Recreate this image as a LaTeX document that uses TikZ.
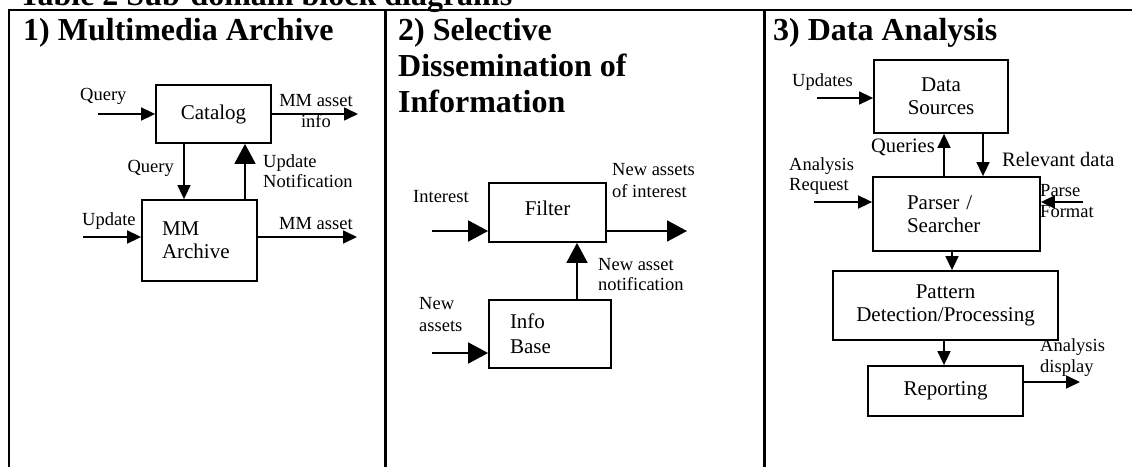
\documentclass[tikz,border=0pt]{standalone}
\usepackage{fontspec}
\setmainfont{Liberation Serif}
\usetikzlibrary{arrows.meta}
\begin{document}
\begin{tikzpicture}[x=1pt,y=-1pt,
  box/.style={draw, line width=1.8pt, fill=white, inner sep=0pt,
    font=\fontsize{21}{23}\selectfont, align=center},
  lbl/.style={inner sep=0pt, font=\fontsize{18.5}{21}\selectfont, align=left},
  biglbl/.style={lbl, font=\fontsize{20.5}{23}\selectfont},
  head/.style={inner sep=0pt, font=\fontsize{32}{36}\selectfont\bfseries,
    align=left, anchor=base west},
  arr/.style={line width=1.6pt, -{Triangle[length=14pt,width=13pt]}},
  bigarr/.style={line width=1.8pt, -{Triangle[length=20pt,width=21pt]}},
  rule/.style={line width=2.3pt}
]
\useasboundingbox (0,0) rectangle (1132,466);

% table frame
\draw[rule] (9,480) -- (9,10) -- (1150,10);
\draw[rule] (385.5,10) -- (385.5,480);
\draw[rule] (764.5,10) -- (764.5,480);

% caption and column headings (multi-line nodes sit on their last baseline)
\node[head] (title) at (19,5.5) {Table 2 Sub-domain block diagrams};
\node[head] (h1) at (23,40.5) {1) Multimedia Archive};
\node[head] (h2) at (398,112) {2) Selective\\Dissemination of\\Information};
\node[head] (h3) at (773,40.5) {3) Data Analysis};

% ---------- labels ----------
% 1) Multimedia Archive
\node[lbl, anchor=base west] (lq1) at (80,100) {Query};
\node[lbl, anchor=base, align=center] (lcatout) at (316,127) {MM asset\\info};
\node[lbl, anchor=base east] (lq2) at (174,172) {Query};
\node[lbl, anchor=base west, font=\fontsize{18.5}{20}\selectfont] (lun) at (263,187) {Update\\Notification};
\node[lbl, anchor=base west] (lup) at (82,225) {Update};
\node[lbl, anchor=base west] (lmmout) at (279,229) {MM asset};
% 2) Selective Dissemination of Information
\node[lbl, anchor=base west] (lint) at (413,202) {Interest};
\node[lbl, anchor=base west, font=\fontsize{18.5}{22}\selectfont] (lfout) at (612,197) {New assets\\of interest};
\node[lbl, anchor=base west, font=\fontsize{18.5}{20}\selectfont] (lnan) at (598,290) {New asset\\notification};
\node[lbl, anchor=base west, font=\fontsize{18.5}{22}\selectfont] (lnew) at (419,331) {New\\assets};
% 3) Data Analysis
\node[lbl, anchor=base west] (lupd) at (792,86) {Updates};
\node[biglbl, anchor=base east] (lqu) at (935,152) {Queries};
\node[biglbl, anchor=base west] (lrd) at (1002,166) {Relevant data};
\node[lbl, anchor=base west, font=\fontsize{18.5}{20}\selectfont] (lar) at (789,190) {Analysis\\Request};
\node[lbl, anchor=base west] (lpf) at (1040,217) {Parse\\Format};
\node[lbl, anchor=base west] (lad) at (1040,372) {Analysis\\display};

% ---------- blocks ----------
\node[box, minimum width=115pt, minimum height=58pt] (catalog) at (213.5,114) {Catalog};
\node[box, minimum width=115pt, minimum height=81pt, text width=75pt, inner xsep=20pt,
  align=left] (mm) at (199.5,240.5) {MM\\Archive};

\node[box, minimum width=117pt, minimum height=59pt, text depth=9pt] (filter) at (547.5,212.5) {Filter};
\node[box, minimum width=122pt, minimum height=68pt, text width=80pt, inner xsep=21pt,
  align=left, font=\fontsize{21}{25}\selectfont] (info) at (550,334) {Info\\Base};

\node[box, minimum width=134pt, minimum height=73pt] (ds) at (941,96.5) {Data\\Sources};
\node[box, minimum width=167pt, minimum height=74pt, text width=99pt, inner xsep=34pt,
  align=left] (parser) at (956.5,214) {Parser /\\Searcher};
\node[box, minimum width=225pt, minimum height=69pt] (pattern) at (945.5,305.5) {Pattern\\Detection/Processing};
\node[box, minimum width=155pt, minimum height=50pt] (rep) at (945.5,391) {Reporting};

% ---------- connectors ----------
% 1)
\coordinate (catin) at (98,114);
\coordinate (catout) at (358,114);
\coordinate (qd) at (184,0);
\coordinate (un) at (245,0);
\coordinate (mmin) at (83,237);
\coordinate (mmout) at (357,237);
\draw[arr] (catin) -- (catin -| catalog.west);
\draw[arr] (catalog.east) -- (catout);
\draw[arr] (qd |- catalog.south) -- (qd |- mm.north);
\draw[bigarr] (un |- mm.north) -- (un |- catalog.south);
\draw[arr] (mmin) -- (mmin -| mm.west);
\draw[arr] (mmout -| mm.east) -- (mmout);
% 2)
\coordinate (fin) at (432,231);
\coordinate (fout) at (687,231);
\coordinate (nan) at (577,0);
\coordinate (iin) at (432,353);
\draw[bigarr] (fin) -- (fin -| filter.west);
\draw[bigarr] (fout -| filter.east) -- (fout);
\draw[bigarr] (nan |- info.north) -- (nan |- filter.south);
\draw[bigarr] (iin) -- (iin -| info.west);
% 3)
\coordinate (dsin) at (817,98);
\coordinate (qu) at (944,0);
\coordinate (rd) at (983,0);
\coordinate (arin) at (814,202);
\coordinate (pfin) at (1083,202);
\coordinate (pp) at (952,0);
\coordinate (pr) at (944,0);
\coordinate (adout) at (1080,382);
\draw[arr] (dsin) -- (dsin -| ds.west);
\draw[arr] (qu |- parser.north) -- (qu |- ds.south);
\draw[arr] (rd |- ds.south) -- (rd |- parser.north);
\draw[arr] (arin) -- (arin -| parser.west);
\draw[arr] (pfin) -- (pfin -| parser.east);
\draw[arr] (pp |- parser.south) -- (pp |- pattern.north);
\draw[arr] (pr |- pattern.south) -- (pr |- rep.north);
\draw[arr] (adout -| rep.east) -- (adout);
\end{tikzpicture}
\end{document}
